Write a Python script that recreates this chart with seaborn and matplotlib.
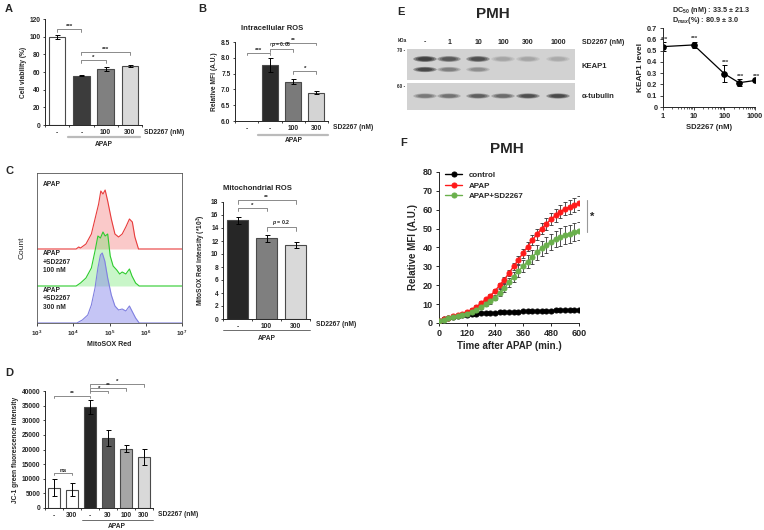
import numpy as np
import pandas as pd
import matplotlib.pyplot as plt
import seaborn as sns
from matplotlib.patches import Rectangle, Ellipse

W, H = 764, 530

# ---------------- data ----------------
# A - cell viability
a_ids = ["ctl", "apap", "sd100", "sd300"]
a_labels = ["-", "-", "100", "300"]
a_vals = [100, 56, 63, 67]
a_errs = [2.2, 1.0, 2.2, 1.0]
a_colors = ["#ffffff", "#3c3c3c", "#808080", "#d9d9d9"]

# B - intracellular ROS (no control bar drawn)
b_order = ["ctl", "apap", "sd100", "sd300"]
b_ids = ["apap", "sd100", "sd300"]
b_labels = ["-", "-", "100", "300"]
b_vals = [7.78, 7.25, 6.90]
b_errs = [0.22, 0.08, 0.06]
b_colors = ["#2b2b2b", "#7a7a7a", "#d4d4d4"]

# C - mitochondrial ROS
c_ids = ["apap", "sd100", "sd300"]
c_labels = ["-", "100", "300"]
c_vals = [15.2, 12.4, 11.4]
c_errs = [0.55, 0.5, 0.5]
c_colors = ["#262626", "#7f7f7f", "#d9d9d9"]

# C - MitoSOX histograms (log10 intensity, relative count)
red_x = [3.0, 4.08, 4.15, 4.2, 4.35, 4.5, 4.6, 4.7, 4.76, 4.82, 4.88, 4.95, 5.05, 5.15, 5.25, 5.35, 5.45, 5.55, 5.63, 5.7, 5.8, 7.0]
red_h = [0, 0, 2, 1, 5, 15, 30, 45, 58, 55, 59, 48, 30, 15, 12, 15, 22, 30, 27, 12, 0, 0]
grn_x = [3.0, 4.08, 4.2, 4.35, 4.5, 4.6, 4.68, 4.75, 4.82, 4.88, 4.95, 5.02, 5.1, 5.2, 5.28, 5.35, 5.45, 5.55, 5.62, 5.72, 5.82, 7.0]
grn_h = [0, 0, 3, 8, 18, 35, 50, 48, 54, 50, 52, 30, 20, 16, 12, 14, 12, 17, 10, 3, 0, 0]
blu_x = [3.0, 4.1, 4.25, 4.4, 4.5, 4.6, 4.68, 4.75, 4.8, 4.87, 4.95, 5.05, 5.15, 5.25, 5.35, 5.45, 5.55, 5.62, 5.72, 5.82, 7.0]
blu_h = [0, 0, 3, 8, 18, 35, 55, 68, 70, 62, 45, 28, 17, 13, 14, 12, 17, 12, 5, 0, 0]

# D - JC-1
d_ids = ["ctl", "sd300only", "apap", "sd30", "sd100", "sd300"]
d_labels = ["-", "300", "-", "30", "100", "300"]
d_vals = [7000, 6200, 34500, 24000, 20300, 17500]
d_errs = [3000, 2200, 2500, 2800, 1200, 2800]
d_colors = ["#ffffff", "#ffffff", "#262626", "#595959", "#a6a6a6", "#d9d9d9"]

# E - western blot band intensities (0-1) and quantification
lanes = ["-", "1", "10", "100", "300", "1000"]
keap1_upper = [1.0, 0.75, 0.85, 0.22, 0.22, 0.2]
keap1_lower = [0.9, 0.45, 0.35, 0.0, 0.0, 0.0]
tubulin = [0.5, 0.55, 0.7, 0.6, 0.85, 0.9]
e_dose = [1, 10, 100, 300, 1000]
e_level = [0.535, 0.55, 0.295, 0.215, 0.235]
e_err = [0.04, 0.03, 0.075, 0.03, 0.01]

# F - kinetics
f_time = list(range(0, 601, 20))
f_control = [1, 2, 2.8, 3.3, 3.8, 4.2, 4.5, 4.8, 5, 5.2, 5.3, 5.4, 5.5, 5.6, 5.7, 5.8,
             5.9, 6, 6.1, 6.2, 6.3, 6.4, 6.5, 6.5, 6.6, 6.7, 6.8, 6.9, 7, 7, 7]
f_apap = [1, 2, 2.8, 3.5, 4.2, 5, 6, 7, 8.5, 10.5, 12.5, 14.5, 17, 20, 23, 26.5,
          30, 33.5, 37, 40.5, 44, 47, 50, 52.5, 55, 57, 59, 60.5, 61.5, 62.5, 63.5]
f_apap_err = [0.3, 0.3, 0.4, 0.4, 0.5, 0.5, 0.6, 0.7, 0.8, 0.9, 1, 1, 1.2, 1.4, 1.6, 1.8,
              2, 2.2, 2.4, 2.5, 2.6, 2.8, 3, 3, 3.2, 3.3, 3.4, 3.5, 3.5, 3.6, 3.6]
f_combo = [1, 1.8, 2.5, 3, 3.6, 4.3, 5, 6, 7, 8.5, 10, 11.5, 13.5, 16, 18.5, 21.5,
           24.5, 27.5, 30, 32.5, 35, 37.5, 39.5, 41.5, 43, 44.5, 45.5, 46.5, 47.3, 48, 48.7]
f_combo_err = [0.3, 0.3, 0.4, 0.4, 0.5, 0.6, 0.7, 0.8, 0.9, 1, 1.1, 1.3, 1.5, 1.8, 2.1, 2.4,
               2.7, 3, 3.2, 3.5, 3.8, 4, 4.2, 4.3, 4.4, 4.5, 4.6, 4.7, 4.8, 4.8, 4.8]

# ---------------- figure ----------------
sns.set_theme(style="ticks")
plt.rcParams["font.family"] = ["Liberation Sans", "DejaVu Sans"]
plt.rcParams["axes.linewidth"] = 0.7
plt.rcParams["mathtext.fontset"] = "custom"
plt.rcParams["mathtext.it"] = "Liberation Sans:italic:bold"
plt.rcParams["mathtext.rm"] = "Liberation Sans:bold"

fig = plt.figure(figsize=(W / 100, H / 100), dpi=100)


def add_px(x0, y0, x1, y1):
    return fig.add_axes([x0 / W, 1 - y1 / H, (x1 - x0) / W, (y1 - y0) / H])


def bracket(ax, x1, x2, y, h, text, fs=4.5, color="#777777"):
    ax.plot([x1, x1, x2, x2], [y - h, y, y, y - h], color=color, lw=0.6, clip_on=False)
    ax.text((x1 + x2) / 2, y, text, ha="center", va="bottom", fontsize=fs,
            fontweight="bold", color="#222222")


def bar_panel(rect, order, ids, vals, errs, colors, labels, ylim, yticks, width,
              ylabel, fs=4.8, yfmt="{:g}"):
    ax = add_px(*rect)
    sns.barplot(x=ids, y=vals, order=order, hue=ids, hue_order=ids,
                palette=dict(zip(ids, colors)), legend=False, width=width,
                edgecolor="#4a4a4a", linewidth=0.8, ax=ax)
    pos = [order.index(i) for i in ids]
    ax.errorbar(pos, vals, yerr=errs, fmt="none", ecolor="black", elinewidth=0.7,
                capsize=1.8, capthick=0.7)
    ax.set_xlim(-0.5, len(order) - 0.5)
    ax.set_ylim(*ylim)
    ax.set_yticks(yticks)
    ax.set_yticklabels([yfmt.format(v) for v in yticks], fontsize=fs, fontweight="bold")
    ax.set_xticks(range(len(order)))
    ax.set_xticklabels(labels, fontsize=fs, fontweight="bold")
    ax.set_xticks(np.arange(-0.5, len(order)), minor=True)
    ax.tick_params(axis="x", which="major", length=0, pad=3)
    ax.tick_params(axis="x", which="minor", length=1.5, width=0.6)
    ax.tick_params(axis="y", length=1.8, width=0.6, pad=1.5)
    ax.set_xlabel("")
    ax.set_ylabel(ylabel, fontsize=fs, fontweight="bold", labelpad=2)
    sns.despine(ax=ax)
    return ax


# overlay for free text, drawn above every panel
ov = fig.add_axes([0, 0, 1, 1])
ov.set_xlim(0, W)
ov.set_ylim(H, 0)
ov.axis("off")
ov.set_zorder(10)


def t(x, y, s, fs=5, ha="left", va="center", bold=True, **kw):
    ov.text(x, y, s, fontsize=fs, ha=ha, va=va,
            fontweight="bold" if bold else "normal", **kw)


# ---- A ----
axA = bar_panel((45, 19, 142, 125), a_ids, a_ids, a_vals, a_errs, a_colors, a_labels,
                (0, 120), range(0, 121, 20), 0.68, "Cell viability (%)")
bracket(axA, 0, 1, 108.7, 3.5, "***")
bracket(axA, 1, 2, 73.6, 3.5, "*")
bracket(axA, 1, 3, 82.7, 3.5, "***")
t(5, 9, "A", fs=8)
t(144, 132.5, "SD2267 (nM)", fs=4.8)
ov.plot([68, 140], [136.5, 136.5], color="#bbbbbb", lw=1.6)
t(104, 144, "APAP", fs=4.8, ha="center")

# ---- B ----
axB = bar_panel((235, 42, 328, 121), b_order, b_ids, b_vals, b_errs, b_colors, b_labels,
                (6.0, 8.5), [6.0, 6.5, 7.0, 7.5, 8.0, 8.5], 0.68,
                "Relative MFI (A.U.)", yfmt="{:.1f}")
bracket(axB, 0, 1, 8.16, 0.08, "***")
bracket(axB, 1, 2, 8.27, 0.08, "$p$ = 0.08", fs=3.6)
bracket(axB, 1, 3, 8.47, 0.08, "**")
bracket(axB, 2, 3, 7.57, 0.08, "*")
t(198, 9, "B", fs=8)
t(272, 28, "Intracellular ROS", fs=5.5, ha="center")
t(333, 127.5, "SD2267 (nM)", fs=4.8)
ov.plot([258, 328], [135, 135], color="#bbbbbb", lw=1.6)
t(294, 141, "APAP", fs=4.8, ha="center")

# ---- C histograms ----
axH = add_px(37, 173, 182, 323)
hist = [(red_x, red_h, 74, "#e83c3c", (0.95, 0.4, 0.4, 0.35)),
        (grn_x, grn_h, 37, "#2ecc2e", (0.4, 0.9, 0.4, 0.35)),
        (blu_x, blu_h, 0, "#8080e0", (0.5, 0.5, 0.92, 0.45))]
for xs, hs, base, lc, fc in hist:
    xv = 10 ** np.array(xs)
    yv = base + np.array(hs)
    axH.fill_between(xv, base, yv, color=fc, lw=0)
    sns.lineplot(x=xv, y=yv, color=lc, lw=0.8, ax=axH, estimator=None, sort=False)
axH.set_xscale("log")
axH.set_xlim(1e3, 1e7)
axH.set_ylim(0, 150)
axH.set_yticks([])
axH.set_xticks([1e3, 1e4, 1e5, 1e6, 1e7])
axH.set_xticklabels(["$10^3$", "$10^4$", "$10^5$", "$10^6$", "$10^7$"], fontsize=4.5)
axH.tick_params(axis="x", which="major", length=2.5, width=0.6, pad=1.5)
axH.tick_params(axis="x", which="minor", length=1.5, width=0.5, bottom=True)
for sp in axH.spines.values():
    sp.set_color("#555555")
    sp.set_linewidth(0.6)
axH.set_ylabel("Count", fontsize=6, labelpad=8)
axH.set_xlabel("MitoSOX Red", fontsize=5, fontweight="bold", labelpad=2)
t(5, 171, "C", fs=8)
t(43, 185, "APAP", fs=4.8)
t(43, 262, "APAP\n+SD2267\n100 nM", fs=4.8, linespacing=1.3)
t(43, 299, "APAP\n+SD2267\n300 nM", fs=4.8, linespacing=1.3)

# ---- C mitochondrial ROS ----
axC = bar_panel((223, 202, 310, 319), c_ids, c_ids, c_vals, c_errs, c_colors, c_labels,
                (0, 18), range(0, 19, 2), 0.69,
                "MitoSOX Red intensity (*10$^3$)")
bracket(axC, 0, 1, 17.07, 0.5, "*")
bracket(axC, 0, 2, 18.25, 0.5, "**")
bracket(axC, 1, 2, 14.1, 0.5, "$p$ = 0.2", fs=3.8)
t(257, 189, "Mitochondrial ROS", fs=5.5, ha="center")
t(316, 324.5, "SD2267 (nM)", fs=4.8)
ov.plot([223, 310], [330, 330], color="#555555", lw=0.6)
t(267, 338, "APAP", fs=4.8, ha="center")

# ---- D ----
axD = bar_panel((45, 391, 153, 508), d_ids, d_ids, d_vals, d_errs, d_colors, d_labels,
                (0, 40000), range(0, 40001, 5000), 0.72,
                "JC-1 green fluorescence intensity")
bracket(axD, 0, 2, 38300, 800, "**")
bracket(axD, 2, 3, 40000, 800, "*")
bracket(axD, 2, 4, 40900, 800, "**")
bracket(axD, 2, 5, 42300, 800, "*")
bracket(axD, 0, 1, 12000, 800, "ns")
t(5, 373, "D", fs=8)
t(158, 514.5, "SD2267 (nM)", fs=4.8)
ov.plot([82, 153], [519.5, 519.5], color="#555555", lw=0.6)
t(117, 527, "APAP", fs=4.8, ha="center")

# ---- E blot ----
t(397, 12, "E", fs=8)
t(493, 14, "PMH", fs=11, ha="center")
lane_x = [425, 449, 478, 503, 528, 558]
t(402, 40, "kDa", fs=3.6, ha="center")
for lx, lab in zip(lane_x, lanes):
    t(lx, 42, lab, fs=5, ha="center")
t(582, 42, "SD2267 (nM)", fs=5)
for y0, y1 in [(49, 80), (83, 110)]:
    ov.add_patch(Rectangle((407, y0), 168, y1 - y0, facecolor="#d2d2d2", edgecolor="none"))
t(405, 50, "70 -", fs=3.4, ha="right")
t(405, 86, "60 -", fs=3.4, ha="right")


def band(x, y, inten, w=18, h=4.5):
    if inten <= 0:
        return
    for s in [1.3, 1.05, 0.8]:
        ov.add_patch(Ellipse((x, y), w * s, h * s, facecolor="#151515",
                             edgecolor="none", alpha=inten * 0.38))


for lx, a, b, c in zip(lane_x, keap1_upper, keap1_lower, tubulin):
    band(lx, 59, a)
    band(lx, 69.5, b, h=4)
    band(lx, 96, c, h=4)
t(582, 67, "KEAP1", fs=5.5)
t(582, 97, "α-tubulin", fs=5.5)

# ---- E quantification ----
axE = add_px(663, 28, 755, 107)
sns.lineplot(x=e_dose, y=e_level, marker="o", color="black", markersize=4,
             markeredgecolor="black", lw=0.9, ax=axE)
axE.errorbar(e_dose, e_level, yerr=e_err, fmt="none", ecolor="black",
             elinewidth=0.7, capsize=1.8, capthick=0.7)
for xd, yd, ed in zip(e_dose, e_level, e_err):
    axE.text(xd * 1.1, yd + ed + 0.005, "***", fontsize=4.5, ha="center",
             va="bottom", fontweight="bold", color="#333333")
axE.set_xscale("log")
axE.set_xlim(1, 1000)
axE.set_ylim(0, 0.7)
axE.set_yticks(np.arange(0, 0.71, 0.1))
axE.set_yticklabels(["0", "0.1", "0.2", "0.3", "0.4", "0.5", "0.6", "0.7"],
                    fontsize=5.3, fontweight="bold")
axE.set_xticks([1, 10, 100, 1000])
axE.set_xticklabels(["1", "10", "100", "1000"], fontsize=5.3, fontweight="bold")
axE.tick_params(which="major", length=2, width=0.6, pad=2)
axE.tick_params(which="minor", length=1.2, width=0.5)
axE.set_ylabel("KEAP1 level", fontsize=6, fontweight="bold", labelpad=2)
axE.set_xlabel("SD2267 (nM)", fontsize=5.5, fontweight="bold", labelpad=3)
sns.despine(ax=axE)
t(672, 11, "DC$_{50}$ (nM) : 33.5 ± 21.3", fs=5.2)
t(672, 20.5, "D$_{max}$(%) : 80.9 ± 3.0", fs=5.2)

# ---- F ----
t(400, 143, "F", fs=8)
t(507, 149, "PMH", fs=11, ha="center")
axF = add_px(439, 172, 579, 323)
series = [("control", f_control, None, "black"),
          ("APAP", f_apap, f_apap_err, "#ff1a1a"),
          ("APAP+SD2267", f_combo, f_combo_err, "#6ab04c")]
for name, vals, errs, col in series:
    if errs is not None:
        axF.errorbar(f_time, vals, yerr=errs, fmt="none", ecolor="#333333",
                     elinewidth=0.6, capsize=1.5, capthick=0.6, zorder=1)
    sns.lineplot(x=f_time, y=vals, marker="o", markersize=3.6, color=col,
                 markeredgecolor=col, lw=1.0, label=name, ax=axF, zorder=3)
axF.set_xlim(0, 600)
axF.set_ylim(0, 80)
axF.set_xticks(range(0, 601, 120))
axF.set_yticks(range(0, 81, 10))
axF.tick_params(labelsize=6.5, length=2.5, width=0.7, pad=2)
for lab in axF.get_xticklabels() + axF.get_yticklabels():
    lab.set_fontweight("bold")
axF.set_xlabel("Time after APAP (min.)", fontsize=7, fontweight="bold", labelpad=2)
axF.set_ylabel("Relative MFI (A.U.)", fontsize=7, fontweight="bold", labelpad=3)
sns.despine(ax=axF)
leg = axF.legend(loc="upper left", bbox_to_anchor=(0.0, 1.04), frameon=False,
                 fontsize=5.8, handlelength=2.2, labelspacing=0.35, borderaxespad=0.3)
for txt in leg.get_texts():
    txt.set_fontweight("bold")
ov.plot([587, 587], [200, 232], color="#999999", lw=0.8)
t(592, 217, "*", fs=8, ha="center")

fig.savefig("out.png", dpi=100)
plt.close(fig)
print("saved")
